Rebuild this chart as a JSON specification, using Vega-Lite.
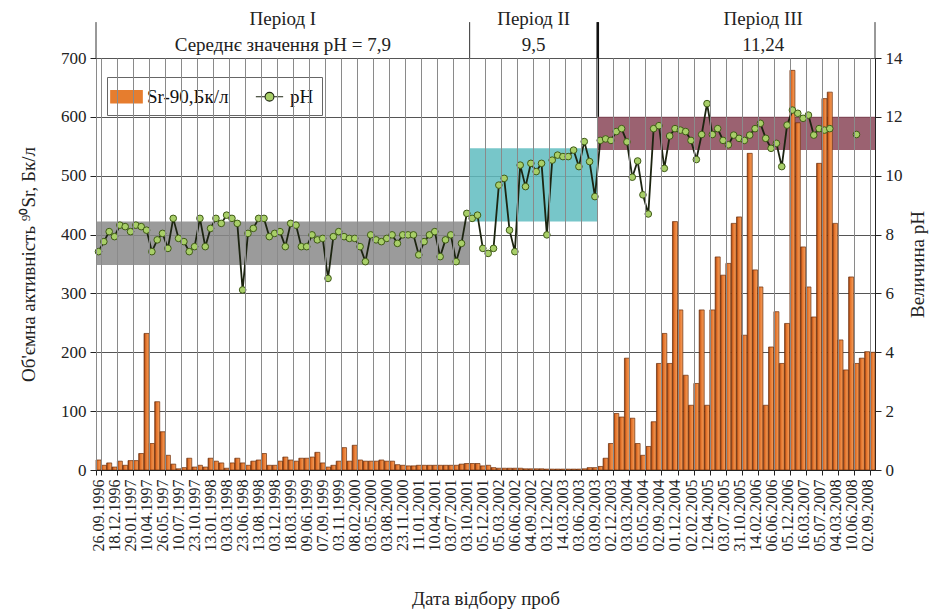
{
  "$schema": "https://vega.github.io/schema/vega-lite/v6.json",
  "width": 779,
  "height": 412,
  "autosize": {"type": "none"},
  "padding": {"left": 96, "top": 58, "right": 65, "bottom": 142},
  "background": "white",
  "config": {
    "font": "Liberation Serif",
    "view": {"stroke": "#333", "strokeWidth": 1},
    "axis": {"labelFont": "Liberation Serif", "titleFont": "Liberation Serif", "labelColor": "#222", "titleColor": "#222", "titleFontWeight": "normal", "domainColor": "#222", "tickColor": "#222"},
    "text": {"font": "Liberation Serif"}
  },
  "datasets": {
    "samples": [
      {"k":0,"sr":17,"ph":7.42},{"k":1,"sr":8,"ph":7.76},{"k":2,"sr":12,"ph":8.1},{"k":3,"sr":5,"ph":7.93},{"k":4,"sr":15,"ph":8.32},
      {"k":5,"sr":8,"ph":8.27},{"k":6,"sr":16,"ph":8.1},{"k":7,"sr":16,"ph":8.32},{"k":8,"sr":28,"ph":8.27},{"k":9,"sr":232,"ph":8.15},
      {"k":10,"sr":45,"ph":7.42},{"k":11,"sr":116,"ph":7.82},{"k":12,"sr":65,"ph":8.04},{"k":13,"sr":25,"ph":7.53},{"k":14,"sr":10,"ph":8.55},
      {"k":15,"sr":2,"ph":7.87},{"k":16,"sr":4,"ph":7.76},{"k":17,"sr":20,"ph":7.42},{"k":18,"sr":5,"ph":7.59},{"k":19,"sr":8,"ph":8.55},
      {"k":20,"sr":5,"ph":7.59},{"k":21,"sr":20,"ph":8.21},{"k":22,"sr":15,"ph":8.55},{"k":23,"sr":12,"ph":8.38},{"k":24,"sr":3,"ph":8.66},
      {"k":25,"sr":12,"ph":8.55},{"k":26,"sr":20,"ph":8.38},{"k":27,"sr":12,"ph":6.12},{"k":28,"sr":8,"ph":8.04},{"k":29,"sr":15,"ph":8.21},
      {"k":30,"sr":17,"ph":8.55},{"k":31,"sr":28,"ph":8.55},{"k":32,"sr":8,"ph":7.93},{"k":33,"sr":8,"ph":8.04},{"k":34,"sr":15,"ph":8.1},
      {"k":35,"sr":22,"ph":7.59},{"k":36,"sr":17,"ph":8.38},{"k":37,"sr":15,"ph":8.32},{"k":38,"sr":20,"ph":7.59},{"k":39,"sr":20,"ph":7.59},
      {"k":40,"sr":22,"ph":7.99},{"k":41,"sr":30,"ph":7.82},{"k":42,"sr":12,"ph":7.87},{"k":43,"sr":5,"ph":6.51},{"k":44,"sr":8,"ph":7.93},
      {"k":45,"sr":15,"ph":8.1},{"k":46,"sr":38,"ph":7.93},{"k":47,"sr":15,"ph":7.87},{"k":48,"sr":42,"ph":7.87},{"k":49,"sr":17,"ph":7.59},
      {"k":50,"sr":15,"ph":7.08},{"k":51,"sr":15,"ph":7.99},{"k":52,"sr":15,"ph":7.82},{"k":53,"sr":17,"ph":7.76},{"k":54,"sr":15,"ph":7.87},
      {"k":55,"sr":15,"ph":7.99},{"k":56,"sr":9,"ph":7.7},{"k":57,"sr":8,"ph":7.99},{"k":58,"sr":7,"ph":7.99},{"k":59,"sr":7,"ph":7.99},
      {"k":60,"sr":8,"ph":7.31},{"k":61,"sr":8,"ph":7.76},{"k":62,"sr":8,"ph":7.99},{"k":63,"sr":8,"ph":8.1},{"k":64,"sr":8,"ph":7.25},
      {"k":65,"sr":8,"ph":7.82},{"k":66,"sr":8,"ph":7.99},{"k":67,"sr":8,"ph":7.08},{"k":68,"sr":10,"ph":7.7},{"k":69,"sr":11,"ph":8.72},
      {"k":70,"sr":11,"ph":8.55},{"k":71,"sr":11,"ph":8.66},{"k":72,"sr":7,"ph":7.53},{"k":73,"sr":8,"ph":7.36},{"k":74,"sr":4,"ph":7.53},
      {"k":75,"sr":3,"ph":9.68},{"k":76,"sr":3,"ph":9.91},{"k":77,"sr":3,"ph":8.15},{"k":78,"sr":3,"ph":7.42},{"k":79,"sr":3,"ph":10.36},
      {"k":80,"sr":2,"ph":9.63},{"k":81,"sr":2,"ph":10.42},{"k":82,"sr":2,"ph":10.14},{"k":83,"sr":2,"ph":10.42},{"k":84,"sr":1.5,"ph":7.99},
      {"k":85,"sr":1.5,"ph":10.53},{"k":86,"sr":1.5,"ph":10.7},{"k":87,"sr":1.5,"ph":10.65},{"k":88,"sr":1.5,"ph":10.65},{"k":89,"sr":1.5,"ph":10.87},
      {"k":90,"sr":1.5,"ph":10.31},{"k":91,"sr":2,"ph":11.16},{"k":92,"sr":4,"ph":10.48},{"k":93,"sr":4,"ph":9.29},
      {"k":94,"sr":6,"ph":11.2},{"k":95,"sr":20,"ph":11.25},{"k":96,"sr":45,"ph":11.2},{"k":97,"sr":96,"ph":11.5},{"k":98,"sr":90,"ph":11.6},
      {"k":99,"sr":190,"ph":11.15},{"k":100,"sr":88,"ph":9.95},{"k":101,"sr":45,"ph":10.5},{"k":102,"sr":25,"ph":9.35},{"k":103,"sr":40,"ph":8.7},
      {"k":104,"sr":82,"ph":11.6},{"k":105,"sr":181,"ph":11.7},{"k":106,"sr":232,"ph":10.25},{"k":107,"sr":181,"ph":11.35},{"k":108,"sr":422,"ph":11.6},
      {"k":109,"sr":272,"ph":11.55},{"k":110,"sr":161,"ph":11.5},{"k":111,"sr":110,"ph":11.2},{"k":112,"sr":147,"ph":10.55},{"k":113,"sr":272,"ph":11.4},
      {"k":114,"sr":110,"ph":12.45},{"k":115,"sr":272,"ph":11.4},{"k":116,"sr":362,"ph":11.6},{"k":117,"sr":331,"ph":11.2},{"k":118,"sr":351,"ph":11.05},
      {"k":119,"sr":419,"ph":11.38},{"k":120,"sr":430,"ph":11.27},{"k":121,"sr":229,"ph":11.2},{"k":122,"sr":538,"ph":11.38},{"k":123,"sr":340,"ph":11.6},
      {"k":124,"sr":311,"ph":11.78},{"k":125,"sr":110,"ph":11.27},{"k":126,"sr":209,"ph":10.93},{"k":127,"sr":269,"ph":11.1},{"k":128,"sr":181,"ph":10.31},
      {"k":129,"sr":249,"ph":11.72},{"k":130,"sr":679,"ph":12.23},{"k":131,"sr":590,"ph":12.12},{"k":132,"sr":379,"ph":11.95},{"k":133,"sr":311,"ph":12.06},
      {"k":134,"sr":260,"ph":11.38},{"k":135,"sr":521,"ph":11.6},{"k":136,"sr":631,"ph":11.55},{"k":137,"sr":642,"ph":11.6},{"k":138,"sr":419,"ph":null},
      {"k":139,"sr":221,"ph":null},{"k":140,"sr":170,"ph":null},{"k":141,"sr":328,"ph":null},{"k":142,"sr":181,"ph":11.4},{"k":143,"sr":190,"ph":null},
      {"k":144,"sr":201,"ph":null},{"k":145,"sr":200,"ph":null}
    ],
    "periods": [
      {"period":"Період I","mean":"Середнє значення pH = 7,9","from":0,"to":69,"mid":35,"lo":6.97,"hi":8.44},
      {"period":"Період II","mean":"9,5","from":70,"to":93,"mid":82,"lo":8.44,"hi":10.93},
      {"period":"Період III","mean":"11,24","from":94,"to":145,"mid":125,"lo":10.87,"hi":12.0}
    ]
  },
  "resolve": {"scale": {"y": "independent"}},
  "layer": [
    {
      "data": {"name": "periods"},
      "mark": {"type": "rect", "opacity": 0.85},
      "encoding": {
        "x": {"field": "from", "type": "ordinal", "bandPosition": 0},
        "x2": {"field": "to", "bandPosition": 1},
        "y": {"field": "lo", "type": "quantitative", "scale": {"domain": [0, 14], "nice": false}, "axis": null},
        "y2": {"field": "hi"},
        "fill": {"field": "period", "type": "nominal", "scale": {"domain": ["Період I", "Період II", "Період III"], "range": ["#8a8a8a", "#5fbcc0", "#8a4758"]}, "legend": null}
      }
    },
    {
      "layer": [
        {
          "data": {"name": "samples"},
          "mark": {
            "type": "bar",
            "stroke": "#6b2c08",
            "strokeWidth": 0.7,
            "fill": {"gradient": "linear", "x1": 0, "y1": 0, "x2": 1, "y2": 0, "stops": [{"offset": 0, "color": "#8e3a0c"}, {"offset": 0.35, "color": "#e3722a"}, {"offset": 1, "color": "#f6a25e"}]}
          },
          "encoding": {
            "x": {
              "field": "k", "type": "ordinal",
              "scale": {"paddingInner": 0.06, "paddingOuter": 0},
              "axis": {
                "values": [0,3,6,9,12,15,18,21,24,27,30,33,36,39,42,45,48,51,54,57,60,63,66,69,72,75,78,81,84,87,90,93,96,99,102,105,108,111,114,117,120,123,126,129,132,135,138,141,144],
                "labelExpr": "['26.09.1996','18.12.1996','29.01.1997','10.04.1997','26.05.1997','10.07.1997','23.10.1997','13.01.1998','03.03.1998','23.06.1998','13.08.1998','03.12.1998','18.03.1999','09.06.1999','07.09.1999','03.11.1999','08.02.2000','03.05.2000','03.08.2000','23.11.2000','11.01.2001','10.04.2001','03.07.2001','03.10.2001','05.12.2001','05.03.2002','06.06.2002','04.09.2002','03.12.2002','14.03.2003','03.06.2003','03.09.2003','02.12.2003','03.03.2004','05.05.2004','02.09.2004','01.12.2004','02.02.2005','12.04.2005','03.07.2005','31.10.2005','14.02.2006','06.06.2006','05.12.2006','16.03.2007','05.07.2007','04.03.2008','10.06.2008','02.09.2008'][datum.value / 3]",
                "labelAngle": 270,
                "labelFontSize": 16,
                "labelPadding": 4,
                "tickBand": "extent",
                "tickSize": 5,
                "grid": true,
                "gridColor": "#8a8a8a",
                "gridWidth": 1,
                "title": "Дата відбору проб",
                "titleFontSize": 19,
                "titlePadding": 38
              }
            },
            "y": {
              "field": "sr", "type": "quantitative",
              "scale": {"domain": [0, 700], "nice": false},
              "axis": {
                "values": [0,100,200,300,400,500,600,700],
                "title": "Об'ємна активність ⁹⁰Sr, Бк/л",
                "titleFontSize": 19,
                "titlePadding": 22,
                "labelFontSize": 17,
                "labelPadding": 4,
                "tickSize": 6,
                "grid": true,
                "gridColor": "#555",
                "gridWidth": 1
              }
            }
          }
        },
        {
          "data": {"name": "periods"},
          "mark": {"type": "rule", "stroke": "#333", "strokeWidth": 1},
          "encoding": {
            "x": {"field": "from", "type": "ordinal", "bandPosition": 0},
            "y": {"datum": 700},
            "y2": {"datum": 761}
          }
        },
        {
          "data": {"name": "periods"},
          "transform": [{"filter": "datum.period === 'Період III'"}],
          "mark": {"type": "rule", "stroke": "#111", "strokeWidth": 2.6},
          "encoding": {
            "x": {"field": "from", "type": "ordinal", "bandPosition": 0},
            "y": {"datum": 600},
            "y2": {"datum": 761}
          }
        },
        {
          "data": {"name": "periods"},
          "transform": [{"filter": "datum.period === 'Період III'"}],
          "mark": {"type": "rule", "stroke": "#333", "strokeWidth": 1},
          "encoding": {
            "x": {"field": "to", "type": "ordinal", "bandPosition": 1},
            "y": {"datum": 700},
            "y2": {"datum": 761}
          }
        },
        {
          "data": {"name": "periods"},
          "mark": {"type": "text", "fontSize": 19, "color": "#222", "baseline": "middle", "align": "center"},
          "encoding": {
            "x": {"field": "mid", "type": "ordinal", "bandPosition": 0},
            "y": {"datum": 766},
            "text": {"field": "period"}
          }
        },
        {
          "data": {"name": "periods"},
          "mark": {"type": "text", "fontSize": 19, "color": "#222", "baseline": "middle", "align": "center"},
          "encoding": {
            "x": {"field": "mid", "type": "ordinal", "bandPosition": 0},
            "y": {"datum": 722},
            "text": {"field": "mean"}
          }
        }
      ]
    },
    {
      "data": {"name": "samples"},
      "layer": [
        {
          "mark": {"type": "line", "strokeWidth": 1.8, "invalid": "break-paths-filter-domains"},
          "encoding": {
            "x": {"field": "k", "type": "ordinal"},
            "y": {
              "field": "ph", "type": "quantitative",
              "scale": {"domain": [0, 14], "nice": false},
              "axis": {
                "orient": "right",
                "values": [0,2,4,6,8,10,12,14],
                "title": "Величина pH",
                "titleAngle": 270,
                "titleBaseline": "top",
                "titleFontSize": 19,
                "titlePadding": 6,
                "labelFontSize": 17,
                "labelPadding": 4,
                "tickSize": 6,
                "grid": false
              }
            },
            "color": {
              "datum": "pH",
              "scale": {"domain": ["Sr-90,Бк/л", "pH"], "range": ["#e67d2e", "#1c2410"]},
              "legend": {
                "title": null,
                "orient": "none",
                "legendX": 11,
                "legendY": 19,
                "direction": "horizontal",
                "fillColor": "white",
                "strokeColor": "#666",
                "padding": 8,
                "labelFont": "Liberation Serif",
                "labelFontSize": 19,
                "labelColor": "#111",
                "symbolSize": 441,
                "labelOffset": 9,
                "columnPadding": 24,
                "encode": {
                  "symbols": {
                    "update": {
                      "shape": {"signal": "datum.value === 'pH' ? 'M-1.3,0H-0.42M0.42,0H1.3M-0.42,0A0.42,0.42 0 1,0 0.42,0A0.42,0.42 0 1,0 -0.42,0Z' : 'M-1.5,-0.6H1.5V0.6H-1.5Z'"},
                      "fill": {"signal": "datum.value === 'pH' ? '#a8cf68' : '#e67d2e'"},
                      "stroke": {"signal": "datum.value === 'pH' ? '#2b3a12' : '#5a2508'"},
                      "strokeWidth": {"value": 1.1},
                      "opacity": {"value": 1}
                    }
                  }
                }
              }
            }
          }
        },
        {
          "mark": {"type": "point", "filled": true, "fill": "#a8cf68", "stroke": "#3f5a17", "strokeWidth": 1, "size": 44, "opacity": 1, "invalid": "filter"},
          "encoding": {
            "x": {"field": "k", "type": "ordinal"},
            "y": {"field": "ph", "type": "quantitative"}
          }
        }
      ]
    }
  ]
}
